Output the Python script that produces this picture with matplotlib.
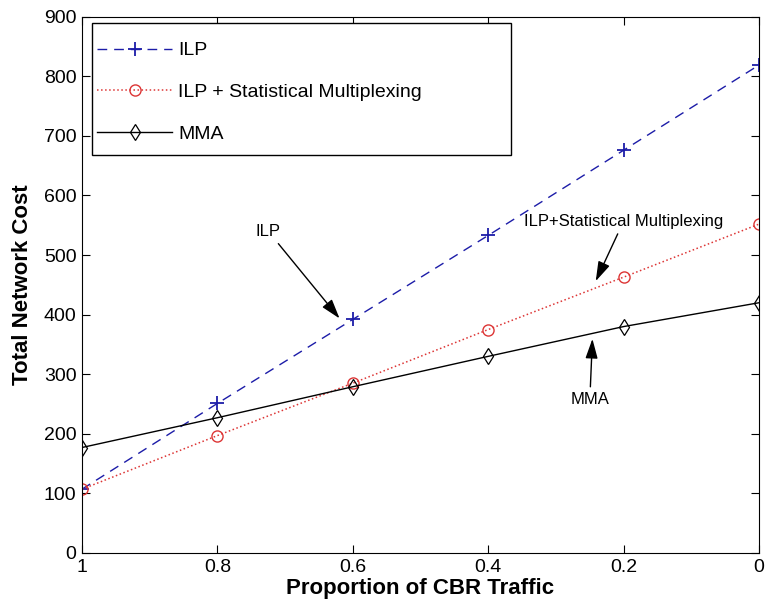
import numpy as np
import matplotlib.pyplot as plt
from matplotlib.patches import Rectangle

plt.rcParams['font.family'] = ['Liberation Sans', 'DejaVu Sans']

# data
cbr = [1.0, 0.8, 0.6, 0.4, 0.2, 0.0]
ilp = [107, 251, 392, 533, 676, 819]
ilp_sm = [107, 197, 285, 375, 463, 552]
mma = [177, 227, 279, 330, 380, 420]

fig = plt.figure(figsize=(7.66, 6.08), dpi=100)
ax = fig.add_axes([0.107, 0.0905, 0.884, 0.882])

ax.plot(cbr, ilp, color='#1c1ca8', ls=(0, (7, 5)), lw=1, marker='+', ms=10,
        mew=1.3, label='ILP')
ax.plot(cbr, ilp_sm, color='#dd3535', ls=':', lw=1.1, marker='o', ms=8,
        mfc='none', mew=1, label='ILP + Statistical Multiplexing')
ax.plot(cbr, mma, color='black', ls='-', lw=1, marker='d', ms=8,
        mfc='none', mew=0.9, label='MMA')

ax.set_xlim(1, 0)
ax.set_ylim(0, 900)
ax.set_xticks([1, 0.8, 0.6, 0.4, 0.2, 0])
ax.set_xticklabels(['1', '0.8', '0.6', '0.4', '0.2', '0'])
ax.set_yticks(np.arange(0, 901, 100))
ax.tick_params(direction='in', top=True, right=True, labelsize=14, length=6,
               pad=4)
ax.set_xlabel('Proportion of CBR Traffic', fontsize=16, fontweight='bold',
              labelpad=2)
ax.set_ylabel('Total Network Cost', fontsize=16, fontweight='bold')
ax.yaxis.set_label_coords(-0.073, 0.5)

arrow = dict(arrowstyle='-|>,head_length=0.8,head_width=0.25', color='black',
             lw=1, mutation_scale=15)
ax.annotate('ILP', xy=(0.617, 390), xytext=(0.725, 540), fontsize=12,
            ha='center', va='center', arrowprops=arrow)
ax.annotate('ILP+Statistical Multiplexing', xy=(0.243, 452), xytext=(0.2, 557),
            fontsize=12, ha='center', va='center', arrowprops=arrow)
ax.annotate('MMA', xy=(0.246, 364), xytext=(0.25, 257), fontsize=12,
            ha='center', va='center', arrowprops=arrow)

# legend box is wider than its contents, so draw the frame separately
ax.add_patch(Rectangle((0.0148, 0.7425), 0.619, 0.2463, transform=ax.transAxes,
                       facecolor='white', edgecolor='black', lw=1, zorder=4))
leg = ax.legend(loc='upper left', fontsize=14, handlelength=3.86,
                handletextpad=0.3, borderpad=0, labelspacing=1.25,
                frameon=False, borderaxespad=0,
                bbox_to_anchor=(0.0222, 0.9534))
leg.set_zorder(5)

fig.savefig('out.png', dpi=100)
